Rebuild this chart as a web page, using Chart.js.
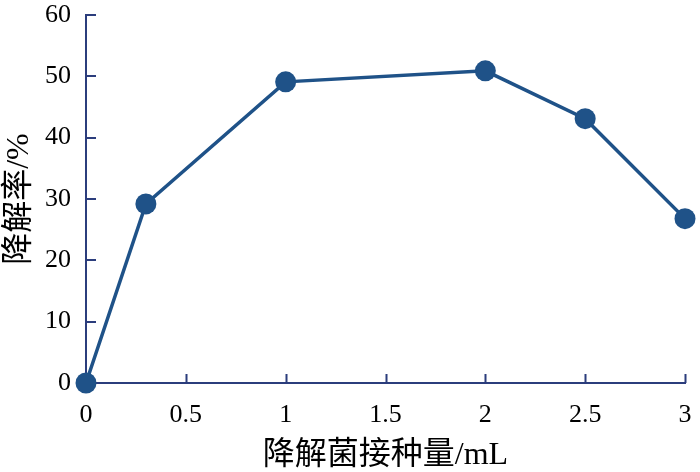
<!DOCTYPE html>
<html>
<head>
<meta charset="utf-8">
<script src="https://cdn.jsdelivr.net/npm/chart.js@4"></script>
<style>
  html, body { margin: 0; padding: 0; background: #fff; }
  #wrap { width: 700px; height: 472px; }
</style>
</head>
<body>
<div id="wrap"><canvas id="grafico" width="700" height="472"></canvas></div>
<script>
// dati
const dosi = [0, 0.3, 1, 2, 2.5, 3];
const degradazione = [0, 29.2, 49.1, 50.9, 43.1, 26.8];
const xTicks = [0, 0.5, 1, 1.5, 2, 2.5, 3];
const yTicks = [0, 10, 20, 30, 40, 50, 60];

const axisColor = "#2b3d7c";
const lineColor = "#1f5288";
const fontNum = "'Liberation Serif', 'DejaVu Serif', serif";
const fontCjk = "'Liberation Serif', 'Noto Sans CJK SC', serif";

// tacche verso l'interno, come nell'originale
const tacchePlugin = {
  id: "tacche",
  afterDraw(chart) {
    const c = chart.ctx;
    const xs = chart.scales.x, ys = chart.scales.y;
    c.save();
    c.strokeStyle = axisColor;
    c.lineWidth = 2;
    c.beginPath();
    xTicks.forEach(v => {
      if (v === 0) return;
      const px = Math.round(xs.getPixelForValue(v)) + 0.5;
      c.moveTo(px, ys.bottom);
      c.lineTo(px, ys.bottom - 9);
    });
    yTicks.forEach(v => {
      if (v === 0) return;
      const py = Math.round(ys.getPixelForValue(v));
      c.moveTo(xs.left, py);
      c.lineTo(xs.left + 10, py);
    });
    c.stroke();
    c.restore();
  }
};

document.addEventListener("DOMContentLoaded", function () {
  const ctx = document.getElementById("grafico").getContext("2d");
  new Chart(ctx, {
    type: "line",
    data: {
      datasets: [{
        label: "降解率",
        data: dosi.map((x, i) => ({ x: x, y: degradazione[i] })),
        borderColor: lineColor,
        backgroundColor: lineColor,
        borderWidth: 3.5,
        pointRadius: 10.5,
        pointBackgroundColor: lineColor,
        pointBorderColor: lineColor,
        pointBorderWidth: 0,
        tension: 0,
        clip: false
      }]
    },
    options: {
      responsive: false,
      animation: false,
      layout: { padding: { top: 15, right: 15, left: 0, bottom: 0 } },
      plugins: { legend: { display: false }, tooltip: { enabled: false } },
      scales: {
        x: {
          type: "linear",
          min: 0, max: 3,
          afterBuildTicks(s) { s.ticks = xTicks.map(v => ({ value: v })); },
          afterFit(s) { s.height = 89; s.paddingLeft = 0; s.paddingRight = 0; },
          border: { display: true, color: axisColor, width: 2 },
          grid: { display: false },
          ticks: {
            color: "#000",
            padding: 9,
            maxRotation: 0,
            font: { family: fontNum, size: 26 },
            callback: v => String(v)
          },
          title: {
            display: true,
            text: "降解菌接种量/mL",
            color: "#000",
            padding: { top: 0, bottom: -3 },
            font: { family: fontCjk, size: 32 }
          }
        },
        y: {
          min: 0, max: 60,
          afterBuildTicks(s) { s.ticks = yTicks.map(v => ({ value: v })); },
          afterFit(s) { s.width = 86; s.paddingTop = 0; s.paddingBottom = 0; },
          border: { display: true, color: axisColor, width: 2 },
          grid: { display: false },
          ticks: {
            color: "#000",
            padding: 7,
            font: { family: fontNum, size: 26 }
          },
          title: {
            display: true,
            text: "降解率/%",
            color: "#000",
            padding: 0,
            font: { family: fontCjk, size: 32 }
          }
        }
      }
    },
    plugins: [tacchePlugin]
  });
});
</script>
</body>
</html>
